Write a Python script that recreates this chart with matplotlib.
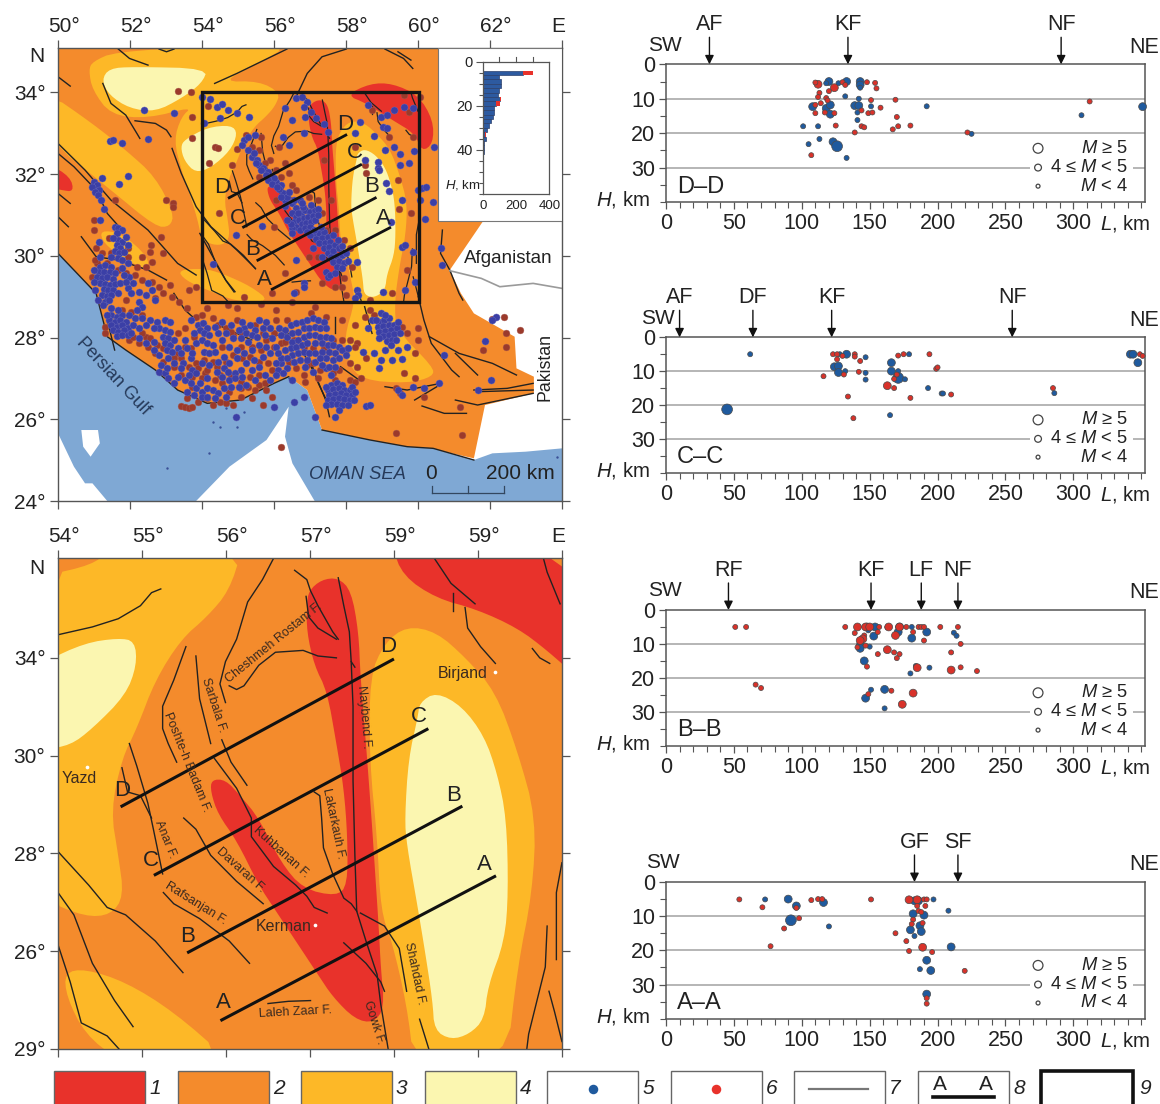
import numpy as np
import matplotlib
matplotlib.use("Agg")
import matplotlib.pyplot as plt
from matplotlib.patches import Polygon, Rectangle
from matplotlib.transforms import ScaledTranslation

plt.rcParams["font.family"] = ["Liberation Sans", "DejaVu Sans"]
plt.rcParams["mathtext.fontset"] = "custom"
plt.rcParams["mathtext.rm"] = "Liberation Sans"
plt.rcParams["mathtext.it"] = "Liberation Sans:italic"
plt.rcParams["mathtext.default"] = "regular"

W, H = 1160, 1104
RED, ORANGE, YELLOW, PALE = "#e8322b", "#f48b2c", "#fdb827", "#fbf6b0"
SEA = "#7fa8d4"
BLUE = "#1f5a9e"
DOT_RED = "#d8322a"
LINE = "#555555"
TXT = "#222222"

# ---- map outlines (sheet units) ----
sea_top = [(157,760),(200,810),(260,880),(290,1010),(340,1050),(420,1110),(480,1170),(560,1210),(650,1200),(740,1150),
           (780,1130),(830,1170),(860,1260),(870,1290),(1000,1320),(1100,1340),(1170,1345),(1200,1355),(1280,1380),
           (1330,1360),(1420,1355),(1518,1345),(1518,1503),(157,1503)]
arabia_a = [(530,1503),(620,1400),(720,1320),(780,1220),(770,1310),(790,1390),(850,1503)]
arabia_b = [(157,1300),(200,1400),(230,1450),(250,1450),(290,1503),(157,1503)]
qatar = [(220,1290),(265,1290),(270,1330),(245,1370),(225,1340)]
land_top = [(157,145),(1184,145),(1184,663),(1305,663),(1215,810),(1245,880),(1280,940),(1390,1010),(1395,1105),
            (1442,1130),(1442,1180),(1310,1215),(1280,1375),(1200,1355),(1170,1345),(1100,1340),(1000,1320),(870,1290),
            (860,1260),(830,1170),(780,1130),(740,1150),(650,1200),(560,1210),(480,1170),(420,1110),(340,1050),
            (290,1010),(260,880),(200,810),(157,760)]
yel_top_a = [(250,185),(310,155),(560,140),(790,130),(690,195),(600,245),(700,243),(757,278),(744,317),(718,350),(688,379),(658,431),
             (637,493),(619,532),(606,599),(615,656),(621,709),(606,733),(576,735),(545,718),(530,640),(490,510),(470,420),
             (490,350),(520,320),(400,355),(300,345),(250,270),(240,210)]
yel_top_b = [(120,270),(250,370),(340,450),(420,530),(470,640),(460,680),(420,680),(300,570),(120,410)]
yel_top_c = [(480,810),(550,805),(600,820),(680,860),(730,905),(640,905),(560,870),(500,840)]
yel_top_d = [(270,690),(330,700),(400,770),(400,810),(340,780),(280,730)]
yel_top_e = [(950,362),(985,369),(1019,403),(1053,446),(1079,522),(1100,608),(1096,704),(1079,799),(1066,905),(1070,990),
             (1170,1100),(1170,1130),(1100,1150),(980,1140),(940,1090),(930,1010),(959,905),(950,847),(933,766),(920,728),
             (916,632),(907,536),(907,427),(925,383)]
pale_top_a = [(275,240),(295,205),(360,200),(562,205),(545,250),(490,295),(420,335),(350,325),(295,285)]
pale_top_b = [(488,440),(500,418),(560,382),(625,375),(642,400),(622,452),(570,503),(528,518),(498,482)]
red_top_ne = [(935,285),(1000,250),(1060,250),(1130,285),(1170,360),(1170,430),(1140,455),(1120,400),(1060,360),(990,310)]
red_top_w = [(130,490),(190,530),(200,575),(165,570),(130,560)]

# lower map, the box of the upper map at larger scale
yel_low_a = [(120,150),(250,120),(290,85),(655,80),(620,190),(560,260),(490,320),(420,430),(370,560),(330,640),(300,780),
             (320,900),(335,1010),(300,1060),(230,1065),(120,1020)]
yel_low_b = [(175,1215),(230,1205),(340,1240),(470,1320),(620,1450),(320,1450),(230,1380),(180,1280)]
yel_low_c = [(1100,285),(1180,300),(1260,370),(1340,460),(1400,620),(1450,800),(1440,1000),(1400,1200),(1370,1460),(1120,1460),
             (1100,1300),(1060,1130),(1030,1050),(1020,850),(1000,650),(1000,420),(1040,330)]
pale_low_a = [(120,380),(230,330),(320,317),(365,325),(370,390),(340,470),(250,560),(190,605),(120,615)]
pale_low_b = [(1135,490),(1180,462),(1250,500),(1310,580),(1345,680),(1370,800),(1375,1000),(1365,1130),(1320,1250),(1310,1340),
              (1270,1380),(1220,1395),(1175,1370),(1170,1290),(1150,1160),(1130,1040),(1100,870),(1095,800),(1105,640),(1130,530)]
red_low_a = [(830,230),(835,190),(870,160),(915,155),(950,190),(970,300),(975,420),(990,600),(1005,800),(1015,950),(1025,1100),
             (1030,1200),(1040,1310),(1010,1350),(960,1340),(900,1280),(860,1220),(800,1130),(740,1040),(700,980),(640,860),
             (590,790),(570,730),(572,697),(610,697),(650,740),(700,800),(760,920),(820,990),(910,1010),(940,980),(940,850),
             (930,720),(910,600),(885,460),(850,390),(830,300)]
red_low_b = [(1060,70),(1570,70),(1570,430),(1480,350),(1400,290),(1290,240),(1180,210),(1090,150)]

faults_low = [
    [(157,308),(250,287),(320,265),(380,230),(410,195),(435,185)],
    [(740,103),(710,160),(670,220),(640,320),(610,380),(595,440),(610,490)],
    [(797,135),(830,160),(840,190),(860,230),(900,300),(915,320)],
    [(828,205),(835,260),(860,290),(910,320)],
    [(915,155),(930,230),(945,300),(950,380),(960,395)],
    [(950,380),(955,500),(955,700),(960,900),(965,1050),(990,1130),(1020,1220),(1030,1300),(1050,1420)],
    [(1175,103),(1220,170),(1285,225)],
    [(1225,195),(1225,245)],
    [(1258,235),(1265,290),(1300,340),(1340,385)],
    [(1470,103),(1480,140),(1515,225)],
    [(1440,345),(1460,370),(1487,385)],
    [(503,340),(470,430),(440,500),(440,560),(455,600),(478,650)],
    [(530,365),(540,480),(570,600)],
    [(910,370),(860,365),(820,350),(745,355),(700,390),(660,445),(640,455),(620,445)],
    [(600,590),(625,650),(668,712)],
    [(580,640),(640,720),(680,800),(680,850),(740,930),(800,980),(830,1010),(850,1040),(885,1055)],
    [(350,600),(370,660),(400,760),(415,830),(440,950)],
    [(330,665),(345,730),(380,740),(410,800)],
    [(497,800),(530,830),(570,900),(640,970),(712,1030)],
    [(850,730),(865,740),(870,800),(875,880),(900,950),(930,1015),(950,1030),(965,1050)],
    [(442,1000),(470,1030),(540,1070),(620,1130),(675,1190)],
    [(157,890),(240,980),(290,1040),(340,1060),(420,1130),(495,1215)],
    [(157,1000),(200,1060),(250,1190),(310,1290),(360,1360)],
    [(157,1140),(190,1240),(220,1350),(290,1385),(322,1420)],
    [(725,1298),(780,1292),(840,1290)],
    [(930,1135),(990,1190),(1030,1240),(1040,1265)],
    [(975,1055),(1040,1090),(1080,1150),(1100,1265)],
    [(1135,1340),(1160,1420)],
    [(1480,1090),(1475,1200),(1450,1300),(1430,1380),(1425,1420)],
    [(1485,1265),(1500,1320),(1520,1400)],
    [(1520,920),(1505,1000),(1505,1180)],
]
faults_top = [
    [(320,147),(350,175),(400,195)], [(430,147),(450,155),(470,147)], [(157,230),(190,258)],
    [(278,250),(300,310),(340,345),(370,400),(378,415)], [(365,362),(420,370),(450,390),(462,410)],
    [(465,445),(490,520),(530,620),(570,680),(640,750),(690,805)], [(540,700),(580,780),(610,840),(635,875)],
    [(157,430),(230,510),(300,600),(400,690),(480,790),(530,825)], [(157,460),(200,500),(260,570),(290,640),(330,690)],
    [(157,580),(190,610)], [(157,650),(185,680)], [(220,710),(260,770),(320,780),(400,810),(450,840)],
    [(157,760),(200,810),(260,880),(290,1010),(340,1050),(420,1110),(480,1170),(560,1210),(650,1200),(740,1150),(780,1130)],
    [(580,250),(640,220),(775,147)], [(800,290),(830,220),(870,170),(935,147)],
    [(1040,147),(1090,175),(1115,205)], [(1075,155),(1110,180)],
    [(470,880),(500,930),(530,960)], [(1195,690),(1190,760),(1215,810),(1240,880),(1250,900)],
    [(1130,890),(1145,960),(1165,1030),(1220,1110),(1240,1130)], [(1230,1060),(1290,1125)],
    [(1160,1010),(1240,1060),(1330,1090),(1395,1125)], [(1280,1170),(1370,1165),(1440,1150)],
    [(1290,1175),(1440,1170)], [(1230,1200),(1290,1215),(1440,1180)], [(1140,1218),(1200,1240),(1260,1240)],
    [(1040,1160),(1100,1170),(1190,1150)], [(1120,1200),(1180,1160)],
    [(820,1060),(850,1120),(880,1200),(890,1250)], [(835,1070),(860,1150),(890,1220)], [(920,1100),(970,1140)],
    [(905,950),(905,1000)], [(985,920),(1005,1000)], [(600,980),(680,1020)], [(720,1010),(790,1000)],
    [(290,960),(310,1050)], [(870,1290),(1000,1320),(1100,1340),(1170,1345),(1280,1380)],
]
border_afg = [(1215,812),(1300,835),(1350,860),(1440,850),(1518,865)]

profiles_low = {"A": [(600,1342),(1338,957)], "B": [(510,1160),(1247,770)], "C": [(420,952),(1155,562)], "D": [(330,768),(1062,375)]}
profile_lab_low = [("A",603,1295),("A",1310,925),("B",508,1118),("B",1227,740),("C",407,915),("C",1133,528),("D",330,725),("D",1050,340)]
profile_lab_top = [("A",715,838),("A",1035,655),("B",683,748),("B",1005,560),("C",643,655),("C",958,458),("D",600,563),("D",933,372)]

fault_names = [("Cheshmeh Rostam F.",742,330,39),("Poshte-h Badam F.",505,650,-68),("Sarbala F.",578,497,-72),("Naybend F.",985,530,-85),
               ("Anar F.",448,858,-68),("Lakarkauh F.",902,815,-78),("Kuhbanan F.",760,893,-42),("Davaran F.",650,940,-42),
               ("Rafsanjan F.",530,1030,-32),("Shahdad F.",1122,1218,-78),("Laleh Zaar F.",800,1322,3),("Gowk F.",1012,1350,-72)]
cities = [("Yazd",235,663,215,695),("Kerman",853,1088,768,1090),("Birjand",1340,408,1252,412)]

# ---- epicentres of the upper map (sheet units) ----
blue_pts = [(390,330),(470,338),(297,422),(305,420),(330,428),(400,418),(345,528),(322,552),(275,535),(545,290),(568,298),(585,320),
    (600,312),(615,330),(640,340),(672,352),(595,355),(550,368),(800,295),(815,290),(830,305),(822,320),(840,335),(825,350),(855,355),
    (875,372),(885,395),(770,325),(790,360),(765,412),(780,435),(822,398),(960,400),(973,365),(1010,408),(1030,350),(1045,345),(1065,330),
    (1090,320),(1115,325),(995,315),(1035,380),(1045,385),(1040,450),(1065,440),(1080,462),(1118,452),(1105,490),(1080,495),(1172,442),
    (985,480),(1022,485),(1020,505),(1025,510),(1043,548),(1050,572),(1085,600),(1130,570),(1140,565),(1150,562),(1135,600),(1170,605),
    (1148,658),(1055,665),(1085,740),(1095,735),(1115,755),(1190,745),(1195,795),(1035,875),(1095,870),(1120,845),(965,785),(965,870),
    (968,885),(960,895),(575,792),(637,705),(707,677),(660,420),(670,410),(690,405),(655,435),(670,450),(680,470),(695,480),(700,495),
    (710,505),(725,515),(735,530),(745,545),(760,555),(765,580),(770,600),(790,610),(800,625),(685,460),(692,490),(705,510),(720,525),
    (740,535),(755,568),(775,590),(810,600),
    (790,640),(800,650),(812,640),(825,630),(838,635),(850,630),(795,665),(808,660),(820,655),(832,650),(845,648),(800,680),(815,672),
    (828,668),(840,665),(852,660),(790,685),(810,690),(825,685),(838,680),(785,672),(860,628),(818,620),(830,695),
    (850,705),(862,700),(875,695),(855,718),(870,715),(885,710),(862,730),(878,728),(892,725),(875,745),(890,740),(905,735),(885,758),
    (900,752),(915,745),(895,772),(910,768),(925,765),(900,785),(915,782),(930,790),(880,815),(885,830),(892,825),(910,800),(820,850),
    (795,880),(820,860),(800,780),
    (255,545),(262,555),(250,560),(268,570),(258,575),(265,585),(272,600),(280,628),(270,660),(310,680),(320,685),(330,690),
    (320,720),(330,725),(315,735),(325,745),(312,752),(322,760),(335,755),(318,775),(330,780),(268,725),(270,772),
    (270,800),(285,795),(300,800),(268,815),(282,815),(298,815),(312,820),(262,830),(275,835),(290,832),(305,838),(270,850),(285,852),
    (298,855),(312,852),(280,868),(292,870),(305,870),(275,885),(288,888),(300,885),(285,905),(295,900),(278,915),(350,830),(360,850),
    (345,865),(355,880),(400,850),(410,870),(375,905),(385,920),(370,930),
    (300,945),(315,950),(330,945),(295,960),(310,965),(325,960),(340,965),(300,975),(315,980),(330,975),(345,985),(305,990),(320,995),
    (335,990),(315,1008),(330,1005),(345,1005),(365,955),(385,955),(405,960),(425,965),(445,960),(460,965),
    (430,985),(445,990),(460,995),(440,1010),(455,1015),(445,1030),(460,1035),(450,1050),(465,1055),(455,1075),(470,1090),(415,1050),
    (500,1020),(515,1075),(495,1090),(520,1110),
    (535,975),(548,970),(560,985),(540,990),(552,1000),(565,1005),(545,1020),(560,1030),(575,1035),(550,1055),(565,1060),(580,1055),
    (600,1020),(620,1040),(640,1050),(605,1070),(590,1085),
    (660,985),(675,975),(690,990),(665,1000),(680,1005),(695,1010),(710,985),(650,1015),(670,1025),(715,1005),(730,985),
    (755,985),(770,990),(785,975),(800,970),(815,965),(830,960),(845,955),(860,960),(875,965),
    (760,1005),(775,1010),(790,1000),(805,995),(820,985),(835,985),(850,980),(865,985),(880,985),
    (790,1025),(805,1020),(820,1010),(835,1005),(850,1005),(865,1010),(880,1010),(895,1015),
    (785,1045),(800,1040),(815,1035),(830,1030),(850,1030),(870,1030),(885,1035),(900,1035),(915,1040),
    (790,1065),(805,1060),(820,1055),(870,1055),(890,1055),(905,1060),(925,1050),(940,1045),(795,1085),(810,1080),(880,1075),(900,1080),
    (760,1090),(775,1105),(750,1110),(765,1120),(880,1105),(915,1075),
    (1025,965),(1038,960),(1050,955),(1020,980),(1035,978),(1050,975),(1065,975),(1025,995),(1040,992),(1055,990),(1072,985),
    (1035,1008),(1050,1005),(1065,1003),(1045,1022),(1058,1020),(1030,940),(1040,945),(995,985),(1005,960),
    (980,1055),(1010,1060),(1040,1050),(1075,1050),(1100,1040),(1030,1080),(1060,1080),(1085,1078),(1025,1105),
    (895,1155),(910,1150),(925,1155),(885,1170),(900,1168),(915,1165),(930,1170),(945,1170),(890,1185),(905,1182),(920,1180),(935,1185),
    (950,1185),(885,1200),(900,1198),(915,1195),(930,1198),(945,1200),(895,1212),(910,1212),(925,1215),(915,1230),(905,1250),
    (1075,1170),(1085,1185),(1115,1160),(1145,1165),(1185,1150),(990,1218),(1000,1215),
    (1290,1170),(1325,1140),(1310,1022),(1198,1065),(1340,950),(1328,960),
    (430,1115),(445,1120),(480,1130),(500,1140),(515,1150),(530,1165),(545,1175),(560,1165),(575,1170),(590,1180),(605,1165),(620,1140),
    (635,1120),(650,1110),(635,1135),(655,1130),(540,1150),(560,1135),(505,1175),(525,1185),(545,1190),
    (745,1090),(760,1075),(700,1100),(680,1110),(790,1140),(820,1190),(795,1205),(740,1220),(638,1250),(850,1250),
    # second pass over the dense belts
    (725,540),(735,552),(748,562),(758,590),(782,575),(770,618),(795,600),(805,640),(815,610),(840,615),(860,645),(868,680),(838,705),
    (848,690),(900,705),(912,720),(925,738),(935,760),(940,782),(925,805),(905,820),(870,770),(845,745),(790,700),(775,660),
    (315,700),(340,710),(305,715),(345,735),(300,770),(345,790),(330,805),(255,810),(255,845),(258,870),(265,900),(320,880),(325,850),
    (340,845),(335,825),(375,875),(395,885),(420,900),(300,925),(320,930),(350,945),(290,945),(360,975),(375,985),(395,975),(415,985),
    (355,1000),(375,1015),(395,1030),(415,1025),(430,1065),(435,1095),(450,1105),(470,1020),(480,1045),(490,1060),(505,1045),(520,1060),
    (530,1030),(525,1000),(515,960),(590,1000),(580,980),(610,1000),(630,1015),(645,990),(625,975),(600,965),(655,965),(700,960),(720,965),
    (735,1015),(720,1040),(700,1035),(680,1050),(660,1060),(640,1075),(620,1090),(605,1105),(585,1115),(565,1095),(545,1090),(530,1120),
    (510,1125),(490,1105),(600,1130),(615,1115),(665,1090),(685,1080),(710,1070),(730,1060),(745,1040),(750,1060),(770,1050),(775,1075),
    (835,1060),(850,1060),(830,1080),(850,1085),(865,1075),(825,1100),(845,1115),(870,1095),(890,1100),(905,1100),(895,1125),(935,1065),
    (690,1140),(665,1155),(645,1160),(625,1160),(610,1190),(580,1195),(560,1190),(470,1150),(455,1135),(745,1125),(730,1140),(715,1125),
    (1015,960),(1075,965),(1080,1000),(1025,1015),(1070,1020),(1055,1035),(880,1160),(950,1160),(880,1215),(940,1215),(960,1175),(955,1200)]
blue_small = [(575,1265),(595,1280),(640,1280),(660,1235),(565,1360),(452,1403),(610,1225),(780,1135),(1505,1372)]

red_pts = [(482,272),(516,277),(520,352),(520,413),(565,490),(580,440),(590,443),(562,318),(640,447),(627,495),(592,640),(448,600),
    (468,610),(468,620),(435,710),(408,735),(405,755),(440,760),(385,770),(410,785),(255,660),(255,690),(295,715),(262,790),(310,600),
    (665,405),(705,410),(730,480),(755,440),(770,490),(780,520),(745,600),(700,530),(740,680),(790,555),(835,590),(875,480),(895,600),
    (835,770),(860,770),(770,820),(735,880),(800,875),(870,850),(925,860),(935,885),(1000,900),(1060,880),(1100,810),(960,440),
    (1090,285),(1105,335),(1135,290),(1005,330),(1050,410),(1115,410),(985,495),(990,520),(1075,540),(1110,640),(1078,628),(660,890),
    (705,912),(745,930),(790,905),(850,920),(510,870),(530,860),(640,925),(615,915),(560,925),
    (260,745),(275,760),(345,745),(345,770),(370,800),(395,800),(460,855),(430,860),(420,895),(340,900),(330,930),(355,935),(385,945),
    (285,980),(285,1000),(350,1020),(375,1030),(400,1040),(420,1060),(440,1085),(395,1010),(480,1000),(500,1040),(525,1010),(480,1060),
    (515,1045),(530,1090),(550,1080),(575,1085),(600,1040),(630,1005),(650,1040),(680,1040),(705,1050),(720,1020),(740,1040),(760,1030),
    (640,960),(610,985),(700,960),(745,960),(775,960),(840,940),(880,950),(925,960),(960,975),(985,950),(1000,930),
    (470,1100),(490,1125),(520,1130),(555,1120),(580,1140),(600,1150),(620,1175),(650,1165),(670,1160),(700,1155),(720,1170),(735,1190),
    (710,1215),(680,1195),(560,1195),(595,1205),(630,1215),(490,1218),(500,1222),(510,1225),(520,1222),
    (760,1340),(1070,1298),(1248,1305),(1242,1220),(1330,958),(1362,950),(1405,990),(1368,1000),(1368,1040),(1305,1050),(1090,1120),
    (1130,985),(1130,1020),(1120,1060),(965,1100),(975,1135),(1120,1135),(1145,1190),(1080,1180),(1070,1165),(990,1075),(965,1030),
    (830,1095),(820,1125),(845,1090),(865,1110),(900,1120),(935,1050),
    # second pass over the dense belts
    (270,820),(250,830),(258,780),(300,760),(290,790),(320,810),(340,820),(365,825),(385,840),(410,845),(440,880),(465,890),(485,905),
    (505,925),(530,950),(500,985),(545,945),(575,955),(590,975),(625,995),(655,1000),(690,975),(710,1000),(740,1000),(770,1025),
    (360,1010),(385,1000),(405,1015),(425,1035),(440,1045),(470,1075),(490,1075),(510,1100),(535,1105),(560,1110),(585,1100),(610,1085),
    (630,1065),(655,1075),(675,1070),(700,1085),(725,1090),(735,1110),(700,1125),(675,1130),(650,1145),(625,1125),(595,1125),(545,1135),
    (520,1160),(505,1195),(535,1205),(575,1215),(610,1210),(650,1190),(690,1170),(715,1150),(795,1020),(820,1040),(845,1045),(875,1045),
    (900,1020),(925,1020),(945,1020),(960,1040),(780,1085),(800,1105),(825,1145),(860,1135),(915,1110),(945,1090),
    (680,440),(700,450),(715,490),(745,510),(760,530),(785,600),(800,570),(860,600),(870,640),(880,690),(905,690),(930,720),(945,745),
    (950,800),(930,835),(905,860),(1010,945),(1085,980),(1100,1000),(905,1140),(945,1140),(960,1145)]

# ---- inset histogram: counts per 2 km depth bin ----
hist_depth = [5,7,9,11,13,15,17,19,21,23,25,27,29,31,33,35,37,39,41,43,45,47,49]
hist_blue = [245,100,108,110,100,90,103,80,70,65,60,50,35,25,12,18,10,8,5,4,3,2,2]
hist_red = [60,0,0,0,0,0,5,22,0,0,0,0,0,0,8,0,0,0,0,0,0,0,0]

# ---- cross sections: (L km, H km, magnitude class 1..3) ----
dd_blue = [(120,5,2),(133,5,2),(143,5,2),(143,6,2),(143,6.8,1),(118,5.5,1),(127,5.5,1),(132,9.3,1),(142,10,1),(108,12.3,2),(118,12.8,2),
    (121,11.8,2),(121,14.5,2),(139,12,2),(142,12,2),(141,14,1),(151,12.2,1),(141,16.2,1),(101,18,1),(112,18,1),(113,21.7,1),(105,23.2,1),
    (123,22.5,2),(126,23.8,3),(133,27.2,1),(192,12.2,1),(225,20.2,1),(306,14.8,1),(351,12.3,2)]
dd_red = [(112,5.8,2),(124,6.8,2),(110,5.3,1),(130,5.2,1),(132,6,1),(148,5.2,1),(154,5.4,1),(155,7,1),(113,8.3,1),(120,7.8,1),(112,9.5,1),
    (118,9.8,1),(119,10.5,1),(114,11.3,1),(110,11.8,1),(110,14.2,1),(117,14,1),(124,14.2,1),(144,13.4,1),(149,14.2,1),(152,14,1),(151,10.4,1),
    (158,12.6,1),(169,10.3,1),(170,15.3,1),(125,17.8,1),(144,18,1),(146,18.3,1),(167,18.9,1),(171,18,1),(180,17.8,1),(139,19.8,1),(222,19.8,1),
    (107,26.4,1),(312,10.8,1)]
cc_blue = [(62,5,1),(45,21.3,3),(133,5,2),(128,5,1),(147,5.9,1),(124,8.7,2),(127,8.5,2),(127,10.4,2),(132,10,1),(147,10.5,1),(147,12.5,1),
    (166,7.5,2),(166,10,2),(171,12,3),(171,10,1),(176,12.4,1),(179,5,1),(193,15,1),(203,16.6,1),(204,16.6,1),(165,23,1),(286,16.5,1),
    (342,5,2),(344,5,2),(347.5,7.5,2)]
cc_red = [(123,5,1),(126,5,1),(130,5.5,1),(139,5,1),(139,5.7,1),(143,7,1),(126,6.5,1),(116,11.5,1),(131,11,1),(142,10.2,1),(134,17.5,1),
    (138,23.9,1),(163,14.3,2),(168,15,1),(168,12.3,1),(170,11,1),(171,5.4,1),(175,5,1),(194,5,1),(199,9.3,1),(200,8.9,1),(180,17.9,1),
    (210,16.9,1),(285,15,1),(349,5,1),(351,5.5,1)]
bb_red = [(51,5,1),(59,5,1),(66,22,1),(70,23,1),(132,5,1),(141,5,2),(147,5,2),(150,5,2),(157,5,1),(164,5,2),(172,5,2),(177,5,1),(186,5,1),
    (188,5,1),(190,5,1),(202,5,1),(215,5,1),(139,6.8,1),(156,6.5,1),(169,7.5,2),(146,7.5,1),(145,8.5,2),(143,9,2),(147,10.5,1),(141,11,1),
    (163,11.7,2),(168,12.5,1),(172,13,1),(170,14.2,1),(156,13,1),(148,16.7,1),(185,17,2),(210,17.7,2),(217,16.9,1),(229,18,1),(217,10,1),
    (210,12.5,1),(190,9,1),(182,6.5,1),(149,24.8,1),(166,23.8,1),(182,24.5,2),(174,27.8,2)]
bb_blue = [(148,5,2),(154,5,2),(149,6,1),(172,5,2),(163,5.1,1),(181,5,1),(153,7.7,2),(171,6.5,2),(192,6.5,2),(181,8.3,2),(212,6.7,1),(214,7.6,1),
    (143,10.5,2),(143,11.3,2),(150,10.8,1),(146,15,2),(184,16.5,1),(194,17,1),(180,18.7,1),(151,23.5,1),(161,23.4,2),(147,26,2),(161,29,1)]
aa_red = [(54,5.1,1),(71,7.4,1),(96,7.6,1),(98,10.6,1),(87,13.6,1),(77,18.8,1),(107,5.3,1),(112,5,1),(115,5,1),(151,5.1,1),(179,5.2,2),(185,5.2,2),
    (190,5.1,1),(192,5.1,1),(185,7,1),(191,7,1),(186,8.5,1),(188,8.8,1),(182,11,1),(181,12.3,1),(189,12,1),(169,15,1),(177,17.3,1),(189,19.1,2),
    (179,20.2,1),(196,20.5,1),(220,26,1),(192,34,1),(192,35.6,1)]
aa_blue = [(73,5.1,1),(90,5,2),(96,7,2),(92,11.2,3),(116,6,2),(120,13,1),(197,5.1,1),(208,8.4,1),(183,5.5,2),(186,5.5,2),(182,9.3,2),(190,9.7,2),
    (187,12.8,2),(188,14.5,2),(180,14,2),(183,15.8,1),(210,19,2),(192,22.9,2),(187,25.5,1),(195,25.9,2),(192,32.8,2)]

sections = [
    ("D–D", (64.3, 202), dd_blue, dd_red, [("AF",32),("KF",134),("NF",291)]),
    ("C–C", (337.3, 472.7), cc_blue, cc_red, [("AF",10),("DF",64),("KF",122),("NF",255)]),
    ("B–B", (610, 745.7), bb_blue, bb_red, [("RF",46),("KF",151),("LF",188),("NF",215)]),
    ("A–A", (882, 1018.7), aa_blue, aa_red, [("GF",183),("SF",215)]),
]
sw_pos = {"D–D": -1, "C–C": -6, "B–B": -1, "A–A": -2}
mag_size = {1: 13, 2: 32, 3: 60}

top_lon_ticks = [50,52,54,56,58,60,62]
top_lat_ticks = [34,32,30,28,26,24]
low_x_labels = ["54°","55°","56°","57°","59°","59°","E"]
low_y_labels = ["29°","26°","28°","30°","34°"]
legend_fill = [RED, ORANGE, YELLOW, PALE]


def axes_px(fig, x0, y0, x1, y1, **kw):
    return fig.add_axes([x0 / W, 1 - y1 / H, (x1 - x0) / W, (y1 - y0) / H], **kw)


def to_top(pts):
    p = np.array(pts, dtype=float)
    return np.c_[50 + (p[:, 0] - 157) / 97.21, 34 - (p[:, 1] - 277) / 122.6]


def low_to_sheet(pts):
    # the lower map is the black box of the upper one
    p = np.array(pts, dtype=float)
    return np.c_[545 + (p[:, 0] - 157) * 0.43, 275 + (p[:, 1] - 103) * 0.478]


def to_low(pts):
    p = np.array(pts, dtype=float)
    return np.c_[54 + (p[:, 0] - 157) / 227.2, (1420 - p[:, 1]) / 262.5]


def rounded(pts, passes=2):
    # corner cutting, the zones are drawn with soft edges
    p = np.array(pts, dtype=float)
    for _ in range(passes):
        n = np.roll(p, -1, axis=0)
        out = np.empty((len(p) * 2, 2))
        out[0::2] = 0.75 * p + 0.25 * n
        out[1::2] = 0.25 * p + 0.75 * n
        p = out
    return p


def fill(ax, pts, color, z=1):
    ax.add_patch(Polygon(pts, closed=True, facecolor=color, edgecolor="none", zorder=z))


def style_spines(ax, lw=1.0):
    for s in ax.spines.values():
        s.set_color(LINE)
        s.set_linewidth(lw)


def shift_top_labels(fig, ax):
    # the degree labels sit a little right of their ticks, E a little left
    labels = ax.get_xticklabels()
    for i, t in enumerate(labels):
        dx = -4 if i == len(labels) - 1 else 6
        t.set_transform(t.get_transform() + ScaledTranslation(dx / 100, 0, fig.dpi_scale_trans))


fig = plt.figure(figsize=(W / 100, H / 100), dpi=100)

# ---- upper map ----
ax = axes_px(fig, 58, 48.3, 562, 501)
ax.set_xlim(50, 64)
ax.set_ylim(24, 35.08)
ax.set_facecolor("white")
fill(ax, to_top(sea_top), SEA, 1)
for shape in (arabia_a, arabia_b, qatar):
    fill(ax, to_top(shape), "white", 1.1)
fill(ax, to_top(land_top), ORANGE, 1.2)
for shape in (yel_top_a, yel_top_b, yel_top_c, yel_top_d, yel_top_e):
    fill(ax, to_top(rounded(shape)), YELLOW, 1.3)
for shape in (pale_top_a, pale_top_b):
    fill(ax, to_top(rounded(shape)), PALE, 1.4)
fill(ax, to_top(low_to_sheet(rounded(pale_low_b))), PALE, 1.4)
for shape in (red_top_ne, red_top_w):
    fill(ax, to_top(rounded(shape)), RED, 1.5)
fill(ax, to_top(low_to_sheet(rounded(red_low_a))), RED, 1.5)
for f in faults_top:
    p = to_top(f)
    ax.plot(p[:, 0], p[:, 1], color="#222222", lw=1.0, zorder=2)
for f in faults_low:
    p = to_top(low_to_sheet(f))
    ax.plot(p[:, 0], p[:, 1], color="#222222", lw=0.9, zorder=2)
p = to_top(border_afg)
ax.plot(p[:, 0], p[:, 1], color="#9a9a9a", lw=1.2, zorder=2)

r = to_top(red_pts)
ax.scatter(r[:, 0], r[:, 1], s=24, color="#9b3a2b", edgecolors="#a85a50", linewidths=0.3, zorder=3)
b = to_top(blue_pts)
ax.scatter(b[:, 0], b[:, 1], s=26, color="#3b3fa6", edgecolors="#6a6ab8", linewidths=0.3, zorder=3.1)
bs = to_top(blue_small)
ax.scatter(bs[:, 0], bs[:, 1], s=3, color="#3a4f96", linewidths=0, zorder=3.1)

box = to_top([(545,275),(1131,275),(1131,905),(545,905)])
ax.add_patch(Polygon(box, closed=True, fill=False, edgecolor="#151515", lw=2.4, zorder=4))
for name, seg in profiles_low.items():
    p = to_top(low_to_sheet(seg))
    ax.plot(p[:, 0], p[:, 1], color="#111111", lw=2.0, zorder=4)
for s, x, y in profile_lab_top:
    q = to_top([(x, y)])[0]
    ax.text(q[0], q[1], s, fontsize=16, color=TXT, ha="center", va="center", zorder=5)

ax.set_xticks(top_lon_ticks + [64])
ax.set_xticklabels([f"{v}°" for v in top_lon_ticks] + ["E"])
ax.set_yticks(top_lat_ticks)
ax.set_yticklabels([f"{v}°" for v in top_lat_ticks])
ax.tick_params(top=True, labeltop=True, bottom=True, labelbottom=False, left=True, right=True, direction="out",
               length=6, width=0.9, color=LINE, labelsize=15, labelcolor=TXT, pad=3)
shift_top_labels(fig, ax)
style_spines(ax)


def top_text(x, y, s, **kw):
    q = to_top([(x, y)])[0]
    ax.text(q[0], q[1], s, ha="center", va="center", color=kw.pop("color", TXT), clip_on=False, zorder=6, **kw)


top_text(100, 170, "N", fontsize=15)
top_text(1372, 775, "Afganistan", fontsize=13.5)
top_text(1473, 1100, "Pakistan", fontsize=12.8, rotation=90)
top_text(305, 1130, "Persian Gulf", fontsize=13, rotation=-47, color="#263a5a")
top_text(965, 1422, "OMAN SEA", fontsize=13.2, style="italic", color="#263a5a")
top_text(1163, 1420, "0", fontsize=15)
top_text(1405, 1420, "200 km", fontsize=15)
for seg in ([(1167,1458),(1167,1480)], [(1263,1458),(1263,1480)], [(1360,1458),(1360,1480)], [(1167,1480),(1360,1480)]):
    p = to_top(seg)
    ax.plot(p[:, 0], p[:, 1], color="#33475f", lw=0.9, zorder=5)

# inset background sits on top of the map
ax.add_patch(Polygon(to_top([(1184,145),(1518,145),(1518,663),(1184,663)]), closed=True, facecolor="white",
                     edgecolor="#777777", lw=0.8, zorder=7))

ins = axes_px(fig, 482.7, 61.7, 549.3, 194)
ins.barh(hist_depth, hist_blue, height=2, color="#2d5aa0", edgecolor="#2b3f6b", linewidth=0.5)
ins.barh(hist_depth, hist_red, left=hist_blue, height=2, color=RED, edgecolor="none")
ins.set_xlim(0, 400)
ins.set_ylim(60, 0)
ins.set_xticks([0, 200, 400])
ins.set_yticks([0, 20, 40])
ins.set_yticks(np.arange(0, 61, 5), minor=True)
ins.tick_params(axis="x", which="major", length=0, labelsize=9.5, labelcolor=TXT, pad=4)
ins.tick_params(axis="y", which="major", length=5, width=0.8, color=LINE, labelsize=10.5, labelcolor=TXT, pad=2)
ins.tick_params(axis="y", which="minor", length=3, width=0.8, color=LINE)
for v in (100, 200, 300):
    ins.plot([v, v], [0, -2.3], color=LINE, lw=0.8, clip_on=False)
style_spines(ins, 0.9)
ins.text(-10, 56, r"$\mathit{H}$, km", fontsize=9.5, color=TXT, ha="right", va="center")

# ---- lower map ----
ax2 = axes_px(fig, 58, 558.4, 562, 1049)
ax2.set_xlim(54, 60)
ax2.set_ylim(0, 5.017)
ax2.set_facecolor(ORANGE)
for shape in (yel_low_a, yel_low_b, yel_low_c):
    fill(ax2, to_low(rounded(shape)), YELLOW, 1.3)
for shape in (pale_low_a, pale_low_b):
    fill(ax2, to_low(rounded(shape)), PALE, 1.4)
for shape in (red_low_a, red_low_b):
    fill(ax2, to_low(rounded(shape)), RED, 1.5)
for f in faults_low:
    p = to_low(f)
    ax2.plot(p[:, 0], p[:, 1], color="#222222", lw=1.0, zorder=2)
for name, seg in profiles_low.items():
    p = to_low(seg)
    ax2.plot(p[:, 0], p[:, 1], color="#111111", lw=2.2, zorder=4)
for s, x, y in profile_lab_low:
    q = to_low([(x, y)])[0]
    ax2.text(q[0], q[1], s, fontsize=16, color=TXT, ha="center", va="center", zorder=5)
for s, x, y, rot in fault_names:
    q = to_low([(x, y)])[0]
    ax2.text(q[0], q[1], s, fontsize=9, color="#3a2a20", ha="center", va="center", rotation=rot, zorder=5)
for s, x, y, tx, ty in cities:
    q = to_low([(x, y)])[0]
    t = to_low([(tx, ty)])[0]
    ax2.scatter([q[0]], [q[1]], s=7, color="white", linewidths=0, zorder=5)
    ax2.text(t[0], t[1], s, fontsize=11.5, color="#3a2a20", ha="center", va="center", zorder=5)

ax2.set_xticks(np.arange(54, 61))
ax2.set_xticklabels(low_x_labels)
ax2.set_yticks([0, 1, 2, 3, 4])
ax2.set_yticklabels(low_y_labels)
ax2.tick_params(top=True, labeltop=True, bottom=True, labelbottom=False, left=True, right=True, direction="out",
                length=6, width=0.9, color=LINE, labelsize=15, labelcolor=TXT, pad=3)
shift_top_labels(fig, ax2)
style_spines(ax2)
q = to_low([(100, 130)])[0]
ax2.text(q[0], q[1], "N", fontsize=15, color=TXT, ha="center", va="center", clip_on=False)

# ---- cross sections ----
for name, (y0, y1), blues, reds, marks in sections:
    sec = axes_px(fig, 666, y0, 1144.5, y1)
    sec.set_xlim(0, 352.4)
    sec.set_ylim(40, 0)
    for v in (10, 20, 30):
        sec.axhline(v, color="#b0b0b0", lw=1.3, zorder=1)
    # legend gap in the 30 km line
    sec.add_patch(Rectangle((268, 28.5), 76, 3, facecolor="white", edgecolor="none", zorder=1.5))
    for pts, col, z in ((blues, BLUE, 3), (reds, DOT_RED, 3.1)):
        arr = np.array(pts)
        sizes = [mag_size[int(m)] for m in arr[:, 2]]
        sec.scatter(arr[:, 0], arr[:, 1], s=sizes, color=col, edgecolors="#4a4a4a", linewidths=0.5, zorder=z, clip_on=False)
    sec.scatter([274, 274, 274], [24.4, 30, 35.4], s=[50, 24, 8], facecolors="white", edgecolors="#444444", linewidths=0.9, zorder=4)
    for yy, txt in ((24.4, r"$\mathit{M}$ ≥ 5"), (30, r"4 ≤ $\mathit{M}$ < 5"), (35.4, r"$\mathit{M}$ < 4")):
        sec.text(340, yy, txt, fontsize=13.2, color=TXT, ha="right", va="center", zorder=4)
    sec.text(8, 35.5, name, fontsize=17, color=TXT, ha="left", va="center")

    sec.set_xticks(np.arange(0, 301, 50))
    sec.set_xticks(np.arange(0, 351, 10), minor=True)
    sec.set_yticks([0, 10, 20, 30])
    sec.set_yticks(np.arange(0, 41, 5), minor=True)
    sec.tick_params(axis="both", which="major", direction="out", length=5, width=0.9, color=LINE, labelsize=15.5, labelcolor=TXT, pad=3)
    sec.tick_params(axis="both", which="minor", direction="out", length=4, width=0.8, color=LINE)
    style_spines(sec, 1.1)

    sec.annotate(r"$\mathit{H}$, km", xy=(0, 0), xycoords="axes fraction", xytext=(-16, 2), textcoords="offset pixels",
                 fontsize=14.7, color=TXT, ha="right", va="center")
    sec.annotate(r"$\mathit{L}$, km", xy=(1, 0), xycoords="axes fraction", xytext=(6, -22), textcoords="offset pixels",
                 fontsize=14.7, color=TXT, ha="right", va="center")
    sec.annotate("SW", xy=(sw_pos[name], 0), xycoords="data", xytext=(0, 19), textcoords="offset pixels",
                 fontsize=15, color=TXT, ha="center", va="center", annotation_clip=False)
    sec.annotate("NE", xy=(352, 0), xycoords="data", xytext=(0, 17), textcoords="offset pixels",
                 fontsize=15.5, color=TXT, ha="center", va="center", annotation_clip=False)
    for lab, pos in marks:
        sec.annotate("", xy=(pos, 0), xycoords="data", xytext=(0, 27), textcoords="offset pixels",
                     arrowprops=dict(arrowstyle="-|>", color="#111111", lw=1.0, shrinkA=0, shrinkB=0, mutation_scale=13))
        sec.annotate(lab, xy=(pos, 0), xycoords="data", xytext=(0, 40), textcoords="offset pixels",
                     fontsize=15.5, color=TXT, ha="center", va="center")

# ---- legend row ----
leg = fig.add_axes([0, 0, 1, 1], facecolor="none")
leg.set_xlim(0, W)
leg.set_ylim(H, 0)
leg.axis("off")
box_x = [54, 177.8, 300.8, 424.6, 547, 670.7, 794, 918]
box_w = 91
for i, x in enumerate(box_x):
    face = legend_fill[i] if i < 4 else "white"
    leg.add_patch(Rectangle((x, 1070.7), box_w, 60, facecolor=face, edgecolor="#666666", lw=1.0))
    leg.text(x + box_w + 10, 1088, str(i + 1), fontsize=15, style="italic", color=TXT, ha="center", va="center")
leg.scatter([box_x[4] + box_w / 2], [1089], s=47, color=BLUE, linewidths=0)
leg.scatter([box_x[5] + box_w / 2], [1089], s=47, color=RED, linewidths=0)
leg.plot([box_x[6] + 15, box_x[6] + 74], [1089, 1089], color="#777777", lw=1.6)
leg.text(box_x[7] + 22, 1085, "A", fontsize=15, color=TXT, ha="center", va="center")
leg.text(box_x[7] + 68, 1085, "A", fontsize=15, color=TXT, ha="center", va="center")
leg.plot([box_x[7] + 15, box_x[7] + 76], [1097, 1097], color="#111111", lw=2.6)
leg.add_patch(Rectangle((1041, 1070.7), 92, 60, facecolor="white", edgecolor="#111111", lw=2.6))
leg.text(1145, 1088, "9", fontsize=15, style="italic", color=TXT, ha="center", va="center")

fig.savefig("out.png", dpi=100)
